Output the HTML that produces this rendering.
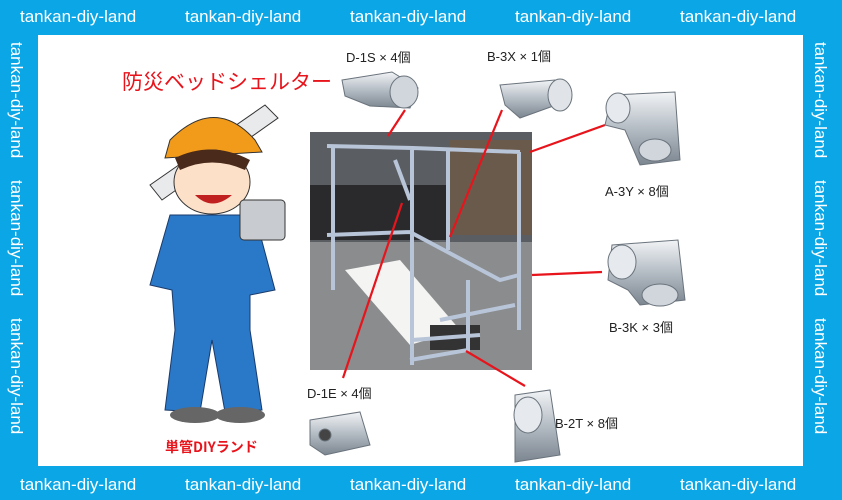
<!DOCTYPE html>
<html><head><meta charset="utf-8"><style>
body{margin:0;width:842px;height:500px;overflow:hidden;background:#0aa6e6;font-family:"Liberation Sans","Noto Sans CJK JP",sans-serif}
svg{display:block}
</style></head><body>
<svg width="842" height="500" viewBox="0 0 842 500" xmlns="http://www.w3.org/2000/svg">
<defs>
<linearGradient id="pipe" x1="0" y1="0" x2="0" y2="1"><stop offset="0" stop-color="#f2f4f6"/><stop offset="0.5" stop-color="#b4bcc4"/><stop offset="1" stop-color="#7c8690"/></linearGradient>
</defs>
<rect width="842" height="500" fill="#0aa6e6"/>
<rect x="38" y="35" width="765" height="431" fill="#fff"/>
<g fill="#fff" font-size="17" font-family="Liberation Sans, sans-serif">
<text x="20" y="22">tankan-diy-land</text><text x="185" y="22">tankan-diy-land</text><text x="350" y="22">tankan-diy-land</text><text x="515" y="22">tankan-diy-land</text><text x="680" y="22">tankan-diy-land</text>
<text x="20" y="490">tankan-diy-land</text><text x="185" y="490">tankan-diy-land</text><text x="350" y="490">tankan-diy-land</text><text x="515" y="490">tankan-diy-land</text><text x="680" y="490">tankan-diy-land</text>
<g transform="translate(11,42) rotate(90)"><text x="0" y="0">tankan-diy-land</text><text x="138" y="0">tankan-diy-land</text><text x="276" y="0">tankan-diy-land</text></g>
<g transform="translate(815,42) rotate(90)"><text x="0" y="0">tankan-diy-land</text><text x="138" y="0">tankan-diy-land</text><text x="276" y="0">tankan-diy-land</text></g>
</g>
<text x="122" y="89" fill="#e8141c" font-size="21" font-family="Noto Sans CJK JP, sans-serif">防災ベッドシェルター</text>
<!-- photo -->
<rect x="310" y="132" width="222" height="238" fill="#8a8c8e"/>
<rect x="310" y="132" width="222" height="110" fill="#5a5d62"/>
<rect x="310" y="185" width="140" height="55" fill="#2a2a2c"/>
<rect x="450" y="140" width="82" height="95" fill="#6a5a4c"/>
<polygon points="345,270 400,260 460,330 410,345" fill="#f4f4f2"/>
<rect x="430" y="325" width="50" height="25" fill="#333"/>
<g stroke="#b8c4d8" stroke-width="4" fill="none">
<path d="M327,146 L413,148 L520,152 M333,148 L333,290 M412,150 L412,365 M448,150 L448,250 M519,152 L519,330 M327,235 L410,232 L500,280 L519,275 M412,340 L480,335 M440,320 L515,305 M468,280 L468,350 L410,360 M395,160 L410,200"/>
</g>
<g stroke="#e8141c" stroke-width="2.2">
<line x1="405" y1="110" x2="388" y2="136"/>
<line x1="502" y1="110" x2="450" y2="237"/>
<line x1="605" y1="125" x2="530" y2="152"/>
<line x1="532" y1="275" x2="602" y2="272"/>
<line x1="466" y1="351" x2="525" y2="386"/>
<line x1="402" y1="203" x2="343" y2="378"/>
</g>
<g font-size="13" fill="#222" font-family="Liberation Sans, Noto Sans CJK JP, sans-serif">
<text x="346" y="62">D-1S × 4個</text>
<text x="487" y="61">B-3X × 1個</text>
<text x="605" y="196">A-3Y × 8個</text>
<text x="609" y="332">B-3K × 3個</text>
<text x="555" y="428">B-2T × 8個</text>
<text x="307" y="398">D-1E × 4個</text>
</g>
<!-- fittings -->
<g stroke="#6a737c" stroke-width="1">
<path d="M342,80 L392,72 L418,88 L410,108 L370,106 L345,96 Z" fill="url(#pipe)"/>
<ellipse cx="404" cy="92" rx="14" ry="16" fill="#d0d6dc"/>
<path d="M500,85 L555,80 L570,100 L520,118 L505,105 Z" fill="url(#pipe)"/>
<ellipse cx="560" cy="95" rx="12" ry="16" fill="#e0e4e8"/>
<path d="M612,95 L675,92 L680,160 L640,165 L625,130 L605,125 Z" fill="url(#pipe)"/>
<ellipse cx="618" cy="108" rx="12" ry="15" fill="#e6eaee"/><ellipse cx="655" cy="150" rx="16" ry="11" fill="#d0d6dc"/>
<path d="M612,245 L678,240 L685,300 L640,305 L628,290 L608,280 Z" fill="url(#pipe)"/>
<ellipse cx="622" cy="262" rx="14" ry="17" fill="#e6eaee"/><ellipse cx="660" cy="295" rx="18" ry="11" fill="#d0d6dc"/>
<path d="M515,395 L550,390 L560,455 L515,462 Z" fill="url(#pipe)"/>
<ellipse cx="528" cy="415" rx="14" ry="18" fill="#e6eaee"/>
<path d="M310,420 L360,412 L370,445 L325,455 L310,445 Z" fill="url(#pipe)"/>
<circle cx="325" cy="435" r="6" fill="#444"/>
</g>
<!-- character -->
<g>
<path d="M150,185 L265,105 L278,118 L162,200 Z" fill="#e8eaec" stroke="#333"/>
<path d="M170,140 Q215,95 255,140 L262,152 L165,158 Z" fill="#f29a1a" stroke="#333"/>
<ellipse cx="212" cy="182" rx="38" ry="32" fill="#fde0c8" stroke="#333"/>
<path d="M175,158 Q212,140 250,160 L245,170 Q212,155 180,170 Z" fill="#4a2a1a"/>
<path d="M195,195 Q212,212 232,195 Z" fill="#c02020"/>
<path d="M170,215 L255,215 L275,290 L250,295 L250,330 L262,410 L225,412 L212,340 L200,412 L165,410 L175,330 L172,290 L150,285 Z" fill="#2a78c8" stroke="#1a3a6a"/>
<rect x="240" y="200" width="45" height="40" rx="4" fill="#c8ccd0" stroke="#333"/>
<ellipse cx="195" cy="415" rx="25" ry="8" fill="#666"/><ellipse cx="240" cy="415" rx="25" ry="8" fill="#666"/>
</g>
<text x="165" y="452" fill="#e8141c" font-size="14" font-weight="bold" font-family="Noto Sans CJK JP, sans-serif">単管DIYランド</text>
</svg>
</body></html>
